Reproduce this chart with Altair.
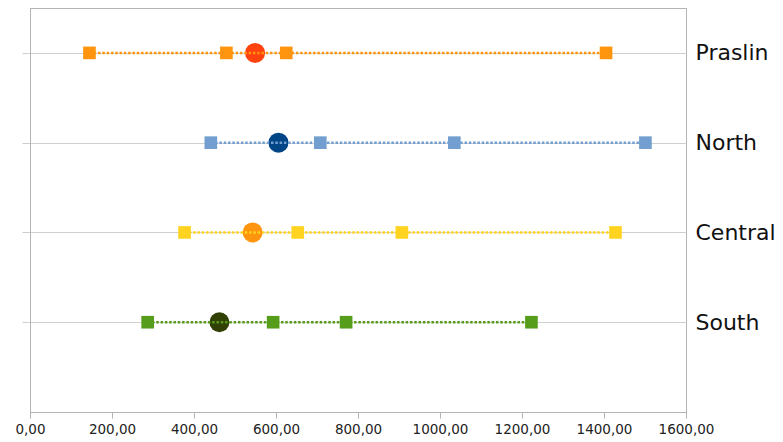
import altair as alt
import pandas as pd

regions = ["Praslin", "North", "Central", "South"]
row_pos = [4, 3, 2, 1]
squares = [
    [145, 479, 625, 1405],
    [441, 708, 1035, 1501],
    [377, 653, 907, 1428],
    [287, 593, 771, 1223],
]
circles = [549, 606, 543, 462]
square_colors = ["#ff950e", "#729fcf", "#ffd320", "#579d1c"]
circle_colors = ["#ff420e", "#004586", "#ff950e", "#314004"]
x_ticks = [0, 200, 400, 600, 800, 1000, 1200, 1400, 1600]

sq_rows = []
for r, p, vals in zip(regions, row_pos, squares):
    for v in vals:
        sq_rows.append({"region": r, "pos": p, "value": v})
sq_df = pd.DataFrame(sq_rows)
c_df = pd.DataFrame({"region": regions, "pos": row_pos, "value": circles})

label_map = "{" + ",".join(f"'{p}':'{r}'" for r, p in zip(regions, row_pos)) + "}"

xscale = alt.Scale(domain=[0, 1600], nice=False, zero=False)
yscale = alt.Scale(domain=[0, 4.5], nice=False, zero=False)

x_enc = alt.X("value:Q", scale=xscale, axis=alt.Axis(
    values=x_ticks, title=None, grid=False, tickSize=6, tickColor="#b3b3b3",
    domainColor="#b3b3b3", labelFont="DejaVu Sans", labelFontSize=13.5,
    labelColor="#222222", labelPadding=4, labelFlush=False, labelOverlap=False,
    labelExpr="replace(format(datum.value, '.2f'), '.', ',')"))

left_axis = alt.Axis(orient="left", values=row_pos, title=None, labels=False,
                     grid=True, gridColor="#d0d0d0", tickSize=8, tickColor="#d0d0d0",
                     domainColor="#b3b3b3")
right_axis = alt.Axis(orient="right", values=row_pos, title=None, grid=False,
                      ticks=False, domain=False, labelPadding=9,
                      labelFont="DejaVu Sans", labelFontSize=22, labelColor="#111111",
                      labelBaseline="middle", labelFlush=False, labelOverlap=False,
                      labelExpr=f"{label_map}[datum.value + '']")

circle_layer = alt.Chart(c_df).mark_circle(size=400, opacity=1).encode(
    x=x_enc,
    y=alt.Y("pos:Q", scale=yscale, axis=left_axis),
    color=alt.Color("region:N", scale=alt.Scale(domain=regions, range=circle_colors), legend=None),
)

line_layer = alt.Chart(sq_df).mark_line(strokeWidth=2.5, strokeDash=[2.5, 1.8]).encode(
    x=alt.X("value:Q", scale=xscale),
    y=alt.Y("pos:Q", scale=yscale, axis=right_axis),
    detail="region:N",
    color=alt.Color("region:N", scale=alt.Scale(domain=regions, range=square_colors), legend=None),
)

square_layer = alt.Chart(sq_df).mark_square(size=160, opacity=1).encode(
    x=alt.X("value:Q", scale=xscale),
    y=alt.Y("pos:Q", scale=yscale, axis=None),
    color=alt.Color("region:N", scale=alt.Scale(domain=regions, range=square_colors), legend=None),
)

chart = alt.layer(circle_layer, line_layer, square_layer).resolve_axis(
    y="independent"
).resolve_scale(color="independent").properties(
    width=656, height=404,
    autosize=alt.AutoSizeParams(type="none"),
    padding={"left": 22, "top": 0, "right": 89, "bottom": 26},
).configure_view(stroke="#b3b3b3", strokeWidth=1)

chart.save("out.html", embed_options={"renderer": "svg", "actions": False})
